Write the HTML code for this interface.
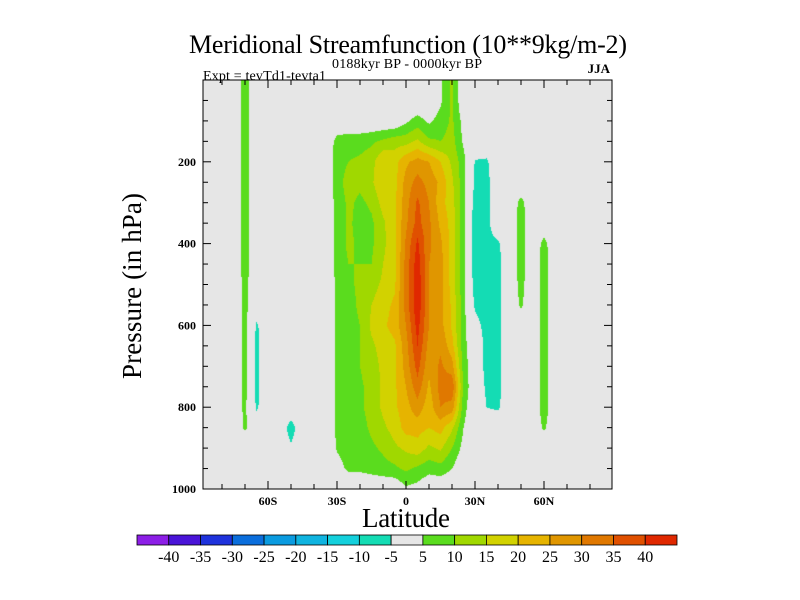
<!DOCTYPE html>
<html><head><meta charset="utf-8"><style>
html,body{margin:0;padding:0;background:#fff;width:800px;height:600px;overflow:hidden}
#wrap{position:relative;width:800px;height:600px}
canvas,svg{position:absolute;left:0;top:0}
text{font-family:"Liberation Serif",serif;fill:#000}
</style></head><body>
<div id="wrap">
<canvas id="field" width="800" height="600"></canvas>
<svg id="ov" width="800" height="600">
<text x="408" y="53" font-size="26" text-anchor="middle" textLength="438">Meridional Streamfunction (10**9kg/m-2)</text>
<text x="332" y="68" font-size="14" textLength="150">0188kyr BP - 0000kyr BP</text>
<text x="203" y="80" font-size="14" textLength="123">Expt = tevTd1-tevta1</text>
<text x="610" y="73" font-size="13" text-anchor="end" font-weight="bold">JJA</text>
<text transform="translate(141,286) rotate(-90)" font-size="27" text-anchor="middle" textLength="186">Pressure (in hPa)</text>
<text x="406" y="527" font-size="27" text-anchor="middle" textLength="88">Latitude</text>
</svg>
</div>
<script>
const lats = [-90,-85,-80,-75,-70,-65,-60,-55,-50,-45,-40,-35,-30,-25,-20,-15,-10,-5,0,5,10,15,20,25,30,35,40,45,50,55,60,65,70,75,80,85,90];
const pressures = [0,50,100,150,200,250,300,350,400,450,500,550,600,650,700,750,800,850,900,950,1000];
const p0   = [0,0,0,0,7.5, 0,0,0,0,0, 0,0,0,0,0, 0,0,0,0,0, 0,4,11,0,0, 0,0,0,0,0, 0,0,0,0,0, 0,0];
const p50  = [0,0,0,0,7.5, 0,0,0,0,0, 0,0,0,0,0, 0,0,0,0,0, 0,4,11,0,0, 0,0,0,0,0, 0,0,0,0,0, 0,0];
const p100 = [0,0,0,0,7.5, 0,0,0,0,0, 0,0,0,0,0, 0,0,0,4,7, 4,7,11,3,0, 0,0,0,0,0, 0,0,0,0,0, 0,0];
const p150 = [0,0,0,0,7.5, 0,0,0,0,0, 0,0,7,8,8, 9,11,13,13,16, 11,10,12,4,0, 0,0,0,0,0, 0,0,0,0,0, 0,0];
const p200 = [0,0,0,0,7.5, 0,0,0,0,0, 0,0,8,10,11, 13,20,18,24,27, 25,20,14,7,-5.5, -6,0,0,0,0, 0,0,0,0,0, 0,0];
const p250 = [0,0,0,0,7.5, 0,0,0,0,0, 0,0,8,12,11, 14,20,18,27,32, 28,24,16,7,-6, -7,0,0,0,0, 0,0,0,0,0, 0,0];
const p300 = [0,0,0,0,7.5, 0,0,0,0,0, 0,0,7,11,9, 11,17,19,28,36, 30,22,17,7,-8, -7,0,0,7,0, 0,0,0,0,0, 0,0];
const p350 = [0,0,0,0,7.5, 0,0,0,0,0, 0,0,7,11,8, 9,14,19,29,37, 31,24,18,7,-9, -7,0,0,8,0, 0,0,0,0,0, 0,0];
const p400 = [0,0,0,0,7.5, 0,0,0,0,0, 0,0,7,11,9, 9,14,18,31,41, 31,26,18,7,-9, -7,-6,0,8,0, 7,0,0,0,0, 0,0];
const p450 = [0,0,0,0,7.5, 0,0,0,0,0, 0,0,7,10,10, 10,15,18,32,43, 30,27,18,7,-9, -7,-7,0,8,0, 8,0,0,0,0, 0,0];
const p500 = [0,0,0,0,7, 0,0,0,0,0, 0,0,6,9,11, 13,16,19,32,44, 30,27,18,7,-8, -7,-7,0,7,0, 8,0,0,0,0, 0,0];
const p550 = [0,0,0,0,7, 0,0,0,0,0, 0,0,6,8,11, 15,18,21,32,44, 30,27,19,7,-6, -7,-7,0,6,0, 8,0,0,0,0, 0,0];
const p600 = [0,0,0,0,7, -6,0,0,0,0, 0,0,6,8,10, 16,19,22,30,42, 30,27,19,7,-3, -7,-7,0,0,0, 8,0,0,0,0, 0,0];
const p650 = [0,0,0,0,7, -6.5,0,0,0,0, 0,0,6,8,10, 14,17,19,28,40, 28,29,22,7,0, -7,-7,0,0,0, 8,0,0,0,0, 0,0];
const p700 = [0,0,0,0,7, -6.5,0,0,0,0, 0,0,6,8,10, 13,16,19,27,37, 26,31,27,8,0, -7,-7,0,0,0, 8,0,0,0,0, 0,0];
const p750 = [0,0,0,0,7, -6.5,0,0,0,0, 0,0,6,8,9, 12,16,19,25,33, 24,32,34,9,0, -6,-7,0,0,0, 8,0,0,0,0, 0,0];
const p800 = [0,0,0,0,6.5, -6,0,0,0,0, 0,0,6,8,9, 12,16,19,23,28, 22,30,28,7,0, -5,-6,0,0,0, 8,0,0,0,0, 0,0];
const p850 = [0,0,0,0,6, 0,0,0,-8,0, 0,0,6,7,8, 11,14,17,22,22, 20,22,16,5,0, 0,0,0,0,0, 6,0,0,0,0, 0,0];
const p900 = [0,0,0,0,0, 0,0,0,-4,0, 0,0,5.5,7,7, 9,11,14,16,18, 14,16,10,3,0, 0,0,0,0,0, 0,0,0,0,0, 0,0];
const p950 = [0,0,0,0,0, 0,0,0,0,0, 0,0,3,6,6, 7,8,9,11,9, 7,8,5,0,0, 0,0,0,0,0, 0,0,0,0,0, 0,0];
const p1000= [0,0,0,0,0, 0,0,0,0,0, 0,0,0,0,0, 0,0,0,4,3, 0,0,0,0,0, 0,0,0,0,0, 0,0,0,0,0, 0,0];
const field = [p0,p50,p100,p150,p200,p250,p300,p350,p400,p450,p500,p550,p600,p650,p700,p750,p800,p850,p900,p950,p1000];
const levels = [-40,-35,-30,-25,-20,-15,-10,-5,5,10,15,20,25,30,35,40];
const levelLabels = ["-40","-35","-30","-25","-20","-15","-10","-5","5","10","15","20","25","30","35","40"];
const yTicks = [200,400,600,800,1000];
const xTicks = [-60,-30,0,30,60];
const xTickLabels = ["60S","30S","0","30N","60N"];
const colors = ["#8c1ee6","#4a14d8","#1e32dc","#0a6edc","#0a9be0","#10b4e0","#14d0dc","#14dcb4","#e6e6e6","#5adc1e","#a0d800","#d2d200","#e6b400","#e09600","#e07800","#e05000","#e02800"];

const PL=203, PR=612, PT=80, PB=489;
function xOf(lat){return 406+2.3*lat;}
function latOf(x){return (x-406)/2.3;}
function yOf(p){return PT+(PB-PT)*p/1000;}
function pOf(y){return (y-PT)*1000/(PB-PT);}
function hex(c){return [parseInt(c.substr(1,2),16),parseInt(c.substr(3,2),16),parseInt(c.substr(5,2),16)];}
const rgb = colors.map(hex);
function interp(arr,v){
  if(v<=arr[0]) return [0,0];
  for(let i=0;i<arr.length-1;i++){ if(v<=arr[i+1]) return [i,(v-arr[i])/(arr[i+1]-arr[i])]; }
  return [arr.length-2,1];
}
function valueAt(lat,p){
  const [i,fx]=interp(lats,lat); const [j,fy]=interp(pressures,p);
  const a=field[j][i], b=field[j][i+1], c=field[j+1][i], d=field[j+1][i+1];
  return (a*(1-fx)+b*fx)*(1-fy)+(c*(1-fx)+d*fx)*fy;
}
function colorIdx(v){let k=0; for(const l of levels){ if(v>l) k++; } return k;}

const cv=document.getElementById('field'); const ctx=cv.getContext('2d');
const W=PR-PL, H=PB-PT; const img=ctx.createImageData(W,H);
for(let py=0;py<H;py++){ const p=pOf(PT+py+0.5);
  for(let px=0;px<W;px++){ const v=valueAt(latOf(PL+px+0.5),p); const c=rgb[colorIdx(v)];
    const o=(py*W+px)*4; img.data[o]=c[0]; img.data[o+1]=c[1]; img.data[o+2]=c[2]; img.data[o+3]=255; } }
ctx.putImageData(img,PL,PT);

const NS='http://www.w3.org/2000/svg'; const svg=document.getElementById('ov');
function mk(tag,attrs){const e=document.createElementNS(NS,tag); for(const k in attrs) e.setAttribute(k,attrs[k]); svg.appendChild(e); return e;}
const frame=mk('rect',{x:PL,y:PT,width:W,height:H,fill:'none',stroke:'#000','stroke-width':1});


for(let p=50;p<1000;p+=50){ const major=(p%200===0); const len=major?8:5; const y=yOf(p);
  const t1=mk('line',{x1:PL,x2:PL+len,y1:y,y2:y,stroke:'#000'});
  
  
  const t2=mk('line',{x1:PR-len,x2:PR,y1:y,y2:y,stroke:'#000'});
  
   }
yTicks.forEach(p=>{ const t=mk('text',{x:PL-7,y:yOf(p)+4,'font-size':12,'font-weight':'bold','text-anchor':'end'}); t.textContent=String(p);
  
   });
for(let lat=-80;lat<=80;lat+=10){ const major=(lat%30===0); const len=major?8:5; const x=xOf(lat);
  const t1=mk('line',{x1:x,x2:x,y1:PB,y2:PB-len,stroke:'#000'});
  
  
  const t2=mk('line',{x1:x,x2:x,y1:PT,y2:PT+len,stroke:'#000'});
  
   }
xTicks.forEach((lat,i)=>{ const t=mk('text',{x:xOf(lat),y:505,'font-size':12,'font-weight':'bold','text-anchor':'middle'}); t.textContent=xTickLabels[i];
  
   });
const CL=137, CR=677, CT=535, CB=545; const bw=(CR-CL)/colors.length;
colors.forEach((c,i)=>{ const r=mk('rect',{x:CL+i*bw,y:CT,width:bw,height:CB-CT,fill:c,stroke:'#000','stroke-width':0.8});
  
   });
levelLabels.forEach((s,i)=>{ const t=mk('text',{x:CL+(i+1)*bw,y:562,'font-size':16,'text-anchor':'middle'}); t.textContent=s;
  
   });
</script>
</body></html>
